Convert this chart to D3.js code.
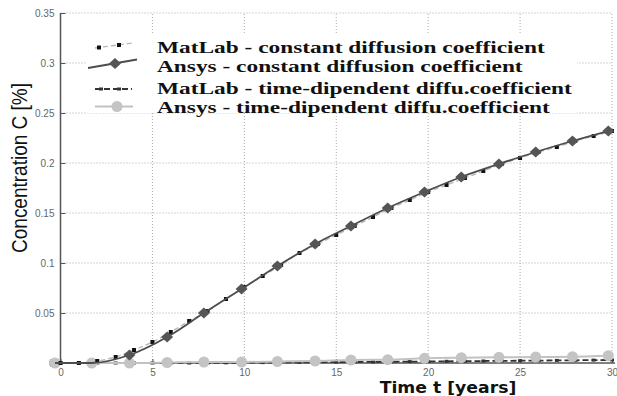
<!DOCTYPE html>
<html><head><meta charset="utf-8">
<script src="https://cdn.jsdelivr.net/npm/d3@7"></script>
<style>body{margin:0;background:#fff}svg{display:block}</style>
</head><body>
<svg id="c" width="617" height="396"></svg>
<script>
// ---- data ----
const xTicks = [0, 5, 10, 15, 20, 25, 30];
const yTicks = [0, 0.05, 0.1, 0.15, 0.2, 0.25, 0.3, 0.35];
const yTickLabels = ["0", "0.05", "0.1", "0.15", "0.2", "0.25", "0.3", "0.35"];

const matlabTime = [0,1,2,3,4,5,6,7,8,9,10,11,12,13,14,15,16,17,18,19,20,21,22,23,24,25,26,27,28,29,30];
const matlabConst = [0,0,0.002,0.006,0.013,0.021,0.031,0.042,0.052,0.064,0.076,0.087,0.098,0.110,0.119,0.128,0.137,0.146,0.155,0.163,0.171,0.178,0.185,0.192,0.199,0.205,0.211,0.216,0.222,0.227,0.232];
const matlabTD = [0,0,0,0,0,0,0,0,0,0.0002,0.0003,0.0004,0.0005,0.0006,0.0007,0.0009,0.001,0.0011,0.0012,0.0014,0.0015,0.0017,0.0018,0.002,0.0021,0.0023,0.0024,0.0026,0.0027,0.0029,0.003];

const ansysTime = [-0.3,1.7,3.75,5.8,7.8,9.85,11.8,13.85,15.8,17.8,19.8,21.8,23.85,25.85,27.85,29.8];
const ansysConst = [0,0,0.008,0.026,0.050,0.074,0.097,0.119,0.137,0.155,0.171,0.186,0.199,0.211,0.222,0.232];
const ansysTD = [0,0,0,0.0005,0.001,0.001,0.0015,0.002,0.003,0.0033,0.0047,0.0053,0.0057,0.006,0.0063,0.0073];

const legendLabels = ["MatLab - constant diffusion coefficient","Ansys - constant diffusion coefficient","MatLab - time-dipendent diffu.coefficient","Ansys - time-dipendent diffu.coefficient"];
const xTitle = "Time t [years]";
const yTitle = "Concentration C [%]";

// ---- chart ----
const svg = d3.select("#c");
const x = d3.scaleLinear().domain([0, 30]).range([60.5, 612]);
const y = d3.scaleLinear().domain([0, 0.35]).range([363, 13]);

// grid
const g = svg.append("g");
g.selectAll(".vg").data(xTicks.filter(d => d > 0)).join("line")
  .attr("x1", d => x(d)).attr("x2", d => x(d)).attr("y1", y(0)).attr("y2", y(0.35))
  .attr("stroke", "#aaa").attr("stroke-width", 1).attr("stroke-dasharray", "1,2");
g.selectAll(".hg").data(yTicks.filter(d => d > 0)).join("line")
  .attr("x1", x(0)).attr("x2", x(30)).attr("y1", d => y(d)).attr("y2", d => y(d))
  .attr("stroke", "#aaa").attr("stroke-width", 1).attr("stroke-dasharray", "1,2");

// legend background hides grid
svg.append("rect").attr("x", 87).attr("y", 33).attr("width", 490).attr("height", 80).attr("fill", "#fff");

// axes
const xAxis = d3.axisBottom(x).tickValues(xTicks).tickSize(-4).tickPadding(6).tickFormat(d3.format("d"));
const yAxis = d3.axisLeft(y).tickValues(yTicks).tickSize(-5).tickPadding(6).tickFormat((d, i) => yTickLabels[i]);
const gx = svg.append("g").attr("transform", `translate(0,${y(0)})`).call(xAxis);
const gy = svg.append("g").attr("transform", `translate(${x(0)},0)`).call(yAxis);
[gx, gy].forEach(a => {
  a.select(".domain").attr("stroke", "#555").attr("stroke-width", 1.5);
  a.selectAll(".tick line").attr("stroke", "#555");
  a.selectAll(".tick text").attr("fill", "#666").attr("font-family", "Liberation Sans, Arial, sans-serif").attr("font-size", 10);
});
gx.select(".domain").attr("d", `M${x(0)},0H${x(30)+3}`);
gy.select(".domain").attr("d", `M0,${y(0)}V${y(0.35)}`);

// line generators
const matPts = arr => matlabTime.map((t, i) => [t, arr[i]]);
const ansPts = arr => ansysTime.map((t, i) => [t, arr[i]]);
const line = d3.line().x(d => x(d[0])).y(d => y(d[1])).curve(d3.curveMonotoneX);
const diamond = "M0,-5.5L6,0L0,5.5L-6,0Z";

// MatLab time-dependent (dashed dark)
svg.append("path").attr("d", line(matPts(matlabTD))).attr("fill", "none")
  .attr("stroke", "#333").attr("stroke-width", 1.8).attr("stroke-dasharray", "6,3");
svg.selectAll(".mtd").data(matPts(matlabTD)).join("rect")
  .attr("x", d => x(d[0]) - 2).attr("y", d => y(d[1]) - 1.5).attr("width", 4).attr("height", 3).attr("fill", "#333");

// Ansys time-dependent (light gray with circles)
svg.append("path").attr("d", line(ansPts(ansysTD))).attr("fill", "none")
  .attr("stroke", "#c2c2c2").attr("stroke-width", 2);
svg.selectAll(".atd").data(ansPts(ansysTD)).join("circle")
  .attr("cx", d => x(d[0])).attr("cy", d => y(d[1])).attr("r", 5.5).attr("fill", "#c4c4c4");

// MatLab constant (light dashed + black squares)
svg.append("path").attr("d", line(matPts(matlabConst))).attr("fill", "none")
  .attr("stroke", "#b5b5b5").attr("stroke-width", 1.3).attr("stroke-dasharray", "5,3");
svg.selectAll(".mc").data(matPts(matlabConst)).join("rect")
  .attr("x", d => x(d[0]) - 2).attr("y", d => y(d[1]) - 2).attr("width", 4).attr("height", 4).attr("fill", "#111");

// Ansys constant (dark solid + diamonds)
svg.append("path").attr("d", line(ansPts(ansysConst))).attr("fill", "none")
  .attr("stroke", "#4d4d4d").attr("stroke-width", 1.8);
svg.selectAll(".ac").data(ansPts(ansysConst).filter(d => d[1] > 0)).join("path")
  .attr("d", diamond).attr("transform", d => `translate(${x(d[0])},${y(d[1])})`).attr("fill", "#555");

// legend
const lg = svg.append("g");
const rowsY = [47.5, 66.5, 88, 107];
lg.append("line").attr("x1", 95).attr("y1", 48).attr("x2", 133).attr("y2", 43)
  .attr("stroke", "#b5b5b5").attr("stroke-width", 1.3).attr("stroke-dasharray", "5,3");
[[99, 47.5], [119, 45]].forEach(p => lg.append("rect").attr("x", p[0] - 2).attr("y", p[1] - 2).attr("width", 4).attr("height", 4).attr("fill", "#111"));
lg.append("line").attr("x1", 88).attr("y1", 68).attr("x2", 137).attr("y2", 59.5).attr("stroke", "#4d4d4d").attr("stroke-width", 1.8);
lg.append("path").attr("d", diamond).attr("transform", "translate(115,63.5)").attr("fill", "#555");
lg.append("line").attr("x1", 95).attr("y1", 89).attr("x2", 132).attr("y2", 89)
  .attr("stroke", "#333").attr("stroke-width", 1.8).attr("stroke-dasharray", "6,3");
[101, 119].forEach(px => lg.append("rect").attr("x", px - 2).attr("y", 87.5).attr("width", 4).attr("height", 3).attr("fill", "#333"));
lg.append("line").attr("x1", 95).attr("y1", 106.5).attr("x2", 133).attr("y2", 106.5).attr("stroke", "#c2c2c2").attr("stroke-width", 2);
lg.append("circle").attr("cx", 117).attr("cy", 106.5).attr("r", 5.5).attr("fill", "#c4c4c4");

lg.selectAll("text").data(legendLabels).join("text")
  .attr("transform", (d, i) => `translate(157,${rowsY[i] + 5.5}) scale(1.46,1.05)`)
  .attr("font-family", "Liberation Serif, Times New Roman, serif").attr("font-weight", "bold")
  .attr("font-size", 16).attr("fill", "#111").text(d => d);

// titles
svg.append("text").attr("transform", "translate(448,393) scale(1.15,1)").attr("text-anchor", "middle")
  .attr("font-family", "DejaVu Sans, sans-serif").attr("font-weight", "bold").attr("font-size", 15)
  .attr("fill", "#111").text(xTitle);
svg.append("text").attr("transform", "translate(27,168) rotate(-90) scale(1,1.2)").attr("text-anchor", "middle")
  .attr("font-family", "Liberation Sans, Arial, sans-serif").attr("font-size", 19)
  .attr("fill", "#111").text(yTitle);
</script>
</body></html>
